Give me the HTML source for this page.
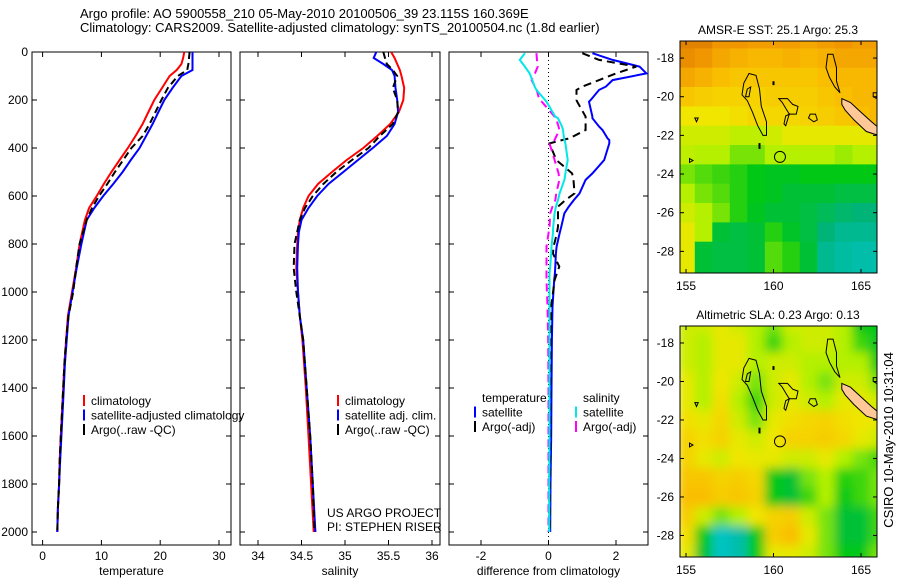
<!DOCTYPE html>
<html><head><meta charset="utf-8"><style>
html,body{margin:0;padding:0;background:#fff;}
svg{display:block;font-family:"Liberation Sans",sans-serif;}
</style></head><body>
<svg id="fig" width="900" height="580" xmlns="http://www.w3.org/2000/svg">
<text x="80" y="18" font-size="13">Argo profile: AO 5900558_210 05-May-2010 20100506_39 23.115S 160.369E</text>
<text x="80" y="32" font-size="13">Climatology: CARS2009. Satellite-adjusted climatology: synTS_20100504.nc (1.8d earlier)</text>
<text transform="translate(893,440) rotate(-90)" text-anchor="middle" font-size="13">CSIRO 10-May-2010 10:31:04</text>
</svg>
<script>
// ---------- profile data ----------
const depthT = [0,25,50,75,100,150,200,250,300,350,400,450,500,550,600,650,700,800,900,1000,1100,1200,1300,1400,1500,1600,1700,1800,1900,2000];
const tempClim = [24.1,23.9,23.6,22.8,21.6,20.3,19.0,18.0,17.0,15.8,14.5,13.1,11.7,10.4,9.2,7.9,7.2,6.3,5.7,5.0,4.3,4.0,3.7,3.5,3.3,3.1,2.9,2.8,2.6,2.5];
const tempSat  = [25.5,25.5,25.5,25.5,23.6,22.1,20.7,19.7,18.7,17.6,16.5,15.0,13.6,12.0,10.3,8.8,7.5,6.6,5.8,5.1,4.4,4.1,3.8,3.6,3.4,3.2,3.0,2.8,2.6,2.5];
const tempArgo = [25.0,24.9,24.8,24.6,23.0,21.3,20.2,19.2,18.2,17.0,15.1,13.7,12.3,11.0,9.6,8.4,7.5,6.3,5.7,5.2,4.4,4.0,3.7,3.5,3.3,3.1,2.9,2.8,2.6,2.5];
const depthS = [0,25,50,75,100,150,200,250,300,350,400,450,500,550,600,650,700,750,800,900,1000,1100,1200,1400,1600,1800,2000];
const salClim = [35.53,35.57,35.60,35.63,35.65,35.68,35.67,35.62,35.52,35.37,35.21,35.02,34.85,34.69,34.58,34.52,34.48,34.46,34.45,34.44,34.46,34.48,34.51,34.55,34.58,34.61,34.64];
const salSat  = [35.36,35.33,35.44,35.54,35.57,35.58,35.60,35.61,35.57,35.48,35.32,35.15,34.98,34.81,34.68,34.58,34.50,34.47,34.46,34.45,34.46,34.48,34.52,34.56,34.60,34.63,34.66];
const salArgo = [35.44,35.46,35.48,35.55,35.60,35.55,35.60,35.61,35.55,35.40,35.27,35.08,34.90,34.75,34.63,34.54,34.48,34.45,34.42,34.41,34.44,34.48,34.52,34.56,34.60,34.63,34.65];
const depthD = [5,33,61,89,117,144,158,200,207,269,276,311,325,360,367,381,450,506,533,589,617,644,672,728,756,811,839,894,922,950,1061,1200,1400,1600,1800,2000];
const dTempSat  = [1.3,1.9,2.7,2.9,1.9,1.7,1.5,1.25,1.2,1.3,1.3,1.5,1.6,1.75,1.8,1.8,1.65,1.3,1.1,0.92,0.75,0.6,0.47,0.38,0.33,0.24,0.22,0.2,0.19,0.17,0.12,0.1,0.09,0.08,0.06,0.05];
const dTempArgo = [1.0,1.5,2.6,2.0,1.5,1.0,0.83,0.83,0.85,1.1,1.1,1.1,1.1,0.62,0.4,0.03,0.23,0.7,0.74,0.77,0.5,0.28,0.28,0.28,0.25,0.15,0.13,0.32,0.25,0.18,0.08,0.06,0.05,0.05,0.04,0.04];
const dSalSat   = [-0.7,-0.85,-0.7,-0.56,-0.48,-0.41,-0.36,-0.1,-0.06,0.2,0.28,0.4,0.43,0.46,0.47,0.5,0.57,0.5,0.47,0.33,0.28,0.22,0.18,0.14,0.13,0.09,0.08,0.05,0.03,0.03,0.03,0.03,0.03,0.03,0.02,0.02];
const dSalArgo  = [-0.36,-0.34,-0.32,-0.4,-0.5,-0.4,-0.35,-0.27,-0.2,0.18,0.22,0.3,0.32,0.2,0.18,0.03,0.18,0.3,0.32,0.23,0.2,0.12,0.05,0.03,0.0,-0.06,-0.06,-0.06,-0.06,-0.06,-0.03,-0.01,0.0,0.0,0.0,0.0];
const depthTicks = [0,200,400,600,800,1000,1200,1400,1600,1800,2000];
const tempTicks = [0,10,20,30];
const salTicks = [34,34.5,35,35.5,36];
const salTickLabels = ["34","34.5","35","35.5","36"];
const diffTicks = [-2,0,2];
// ---------- map data (1-degree cells, 0=cold/low .. 1=warm/high) ----------
const mapLons = [154.5,155.5,156.5,157.5,158.5,159.5,160.5,161.5,162.5,163.5,164.5,165.5];
const mapLats = [-16.5,-17.5,-18.5,-19.5,-20.5,-21.5,-22.5,-23.5,-24.5,-25.5,-26.5,-27.5,-28.5];
const sstGrid = [
[0.95,0.95,0.9,0.9,0.88,0.88,0.88,0.85,0.88,0.9,0.88,0.88],
[0.92,0.9,0.85,0.82,0.8,0.8,0.82,0.8,0.82,0.85,0.85,0.85],
[0.85,0.82,0.78,0.75,0.75,0.75,0.75,0.75,0.78,0.8,0.8,0.8],
[0.75,0.72,0.7,0.7,0.7,0.72,0.72,0.72,0.75,0.78,0.8,0.8],
[0.62,0.62,0.62,0.65,0.68,0.68,0.68,0.7,0.72,0.75,0.78,0.8],
[0.55,0.55,0.55,0.52,0.52,0.55,0.6,0.6,0.6,0.6,0.6,0.6],
[0.52,0.5,0.5,0.45,0.45,0.5,0.5,0.5,0.5,0.48,0.5,0.5],
[0.45,0.42,0.4,0.38,0.35,0.33,0.33,0.35,0.35,0.35,0.35,0.35],
[0.5,0.45,0.42,0.38,0.35,0.33,0.3,0.3,0.3,0.28,0.28,0.28],
[0.55,0.5,0.45,0.38,0.33,0.3,0.3,0.28,0.25,0.22,0.2,0.2],
[0.6,0.5,0.3,0.28,0.3,0.38,0.32,0.28,0.2,0.15,0.15,0.15],
[0.6,0.3,0.28,0.28,0.3,0.42,0.38,0.3,0.15,0.12,0.1,0.1],
[0.6,0.3,0.28,0.28,0.3,0.42,0.38,0.3,0.15,0.12,0.1,0.1]];
const slaGrid = [
[0.55,0.55,0.6,0.55,0.5,0.45,0.55,0.55,0.55,0.5,0.35,0.35],
[0.55,0.5,0.6,0.6,0.5,0.4,0.5,0.55,0.55,0.5,0.4,0.33],
[0.55,0.5,0.6,0.6,0.5,0.55,0.55,0.5,0.5,0.5,0.5,0.35],
[0.6,0.5,0.62,0.55,0.45,0.55,0.6,0.5,0.45,0.55,0.55,0.45],
[0.6,0.5,0.65,0.5,0.4,0.55,0.6,0.55,0.5,0.6,0.6,0.55],
[0.65,0.6,0.68,0.55,0.45,0.6,0.65,0.68,0.7,0.65,0.62,0.6],
[0.7,0.65,0.7,0.6,0.55,0.62,0.7,0.7,0.72,0.68,0.6,0.55],
[0.7,0.6,0.55,0.62,0.6,0.6,0.55,0.55,0.6,0.5,0.45,0.4],
[0.75,0.75,0.7,0.72,0.68,0.35,0.3,0.45,0.5,0.38,0.4,0.45],
[0.78,0.78,0.72,0.75,0.7,0.35,0.3,0.4,0.5,0.35,0.4,0.45],
[0.72,0.55,0.45,0.5,0.62,0.7,0.72,0.55,0.45,0.3,0.3,0.4],
[0.65,0.35,0.05,0.1,0.35,0.72,0.78,0.6,0.45,0.3,0.3,0.4],
[0.6,0.3,0.05,0.1,0.35,0.6,0.6,0.55,0.45,0.35,0.35,0.45]];
const lonTicks = [155,160,165];
const latTicks = [-18,-20,-22,-24,-26,-28];
const argoLon = 160.369, argoLat = -23.115;

const NS = "http://www.w3.org/2000/svg";
const svg = document.getElementById("fig");
function mk(tag, attrs, parent){const e=document.createElementNS(NS,tag);for(const k in attrs)e.setAttribute(k,attrs[k]);(parent||svg).appendChild(e);return e;}
function txt(x,y,s,anchor,parent,size){const t=mk("text",{x:x,y:y,"font-size":size||12,"text-anchor":anchor||"start"},parent);t.textContent=s;return t;}

const TOP=52, BOT=545, Y0=52, YK=0.24;
const yD = d => Y0 + d*YK;
function linScale(v0,p0,v1,p1){return v=>p0+(v-v0)*(p1-p0)/(v1-v0);}

function panel(name,left,right,xs,ticks,labels,xlabel,showY){
  const g=mk("g",{});
  
  
  const r=mk("rect",{x:left,y:TOP,width:right-left,height:BOT-TOP,fill:"none",stroke:"#000","stroke-width":1},g);
  
  
  ticks.forEach((t,i)=>{const x=xs(t);
    mk("line",{x1:x,x2:x,y1:BOT,y2:BOT-5,stroke:"#000"},g);
    mk("line",{x1:x,x2:x,y1:TOP,y2:TOP+5,stroke:"#000"},g);
    const l=txt(x,BOT+15,labels[i],"middle",g);
    
    
  });
  depthTicks.forEach(d=>{const y=yD(d);
    mk("line",{x1:left,x2:left+5,y1:y,y2:y,stroke:"#000"},g);
    mk("line",{x1:right,x2:right-5,y1:y,y2:y,stroke:"#000"},g);
    if(showY){const l=txt(left-4,y+4,String(d),"end",g);
      
      }
  });
  const xl=txt((left+right)/2,BOT+30,xlabel,"middle",g);
  
  
  return g;
}
function series(name,xs,depths,vals,color,dash,width,clip){
  const pts=vals.map((v,i)=>xs(v).toFixed(1)+","+yD(depths[i]).toFixed(1)).join(" ");
  const p=mk("polyline",{points:pts,fill:"none",stroke:color,"stroke-width":width||2,"stroke-dasharray":dash||"none","clip-path":clip||"none"});
  
  
}
function legend(x,y,items,name){
  items.forEach((it,i)=>{const yy=y+i*14.5;
    const m=mk("line",{x1:x,x2:x,y1:yy-10,y2:yy+1,stroke:it[1],"stroke-width":2});
    
    
    const t=txt(x+7,yy,it[0],"start");
    
    
  });
}
// clip paths
const defs=mk("defs",{});
[["c1",32,231],["c2",240,440],["c3",449,648]].forEach(c=>{const cp=mk("clipPath",{id:c[0]},defs);mk("rect",{x:c[1],y:TOP,width:c[2]-c[1],height:BOT-TOP},cp);});

// Panel 1 temperature
const xT = linScale(0,42.6,30,219);
panel("temperature-panel",32,231,xT,tempTicks,tempTicks.map(String),"temperature",true);
series("temp-climatology-line",xT,depthT,tempClim,"#ff0000",null,2,"url(#c1)");
series("temp-satellite-line",xT,depthT,tempSat,"#0000ff",null,2,"url(#c1)");
series("temp-argo-line",xT,depthT,tempArgo,"#000000","7,4",2,"url(#c1)");
legend(84,405,[["climatology","#ff0000"],["satellite-adjusted climatology","#0000ff"],["Argo(..raw -QC)","#000000"]],"temp-legend");

// Panel 2 salinity
const xS = linScale(34,258,36,432);
panel("salinity-panel",240,440,xS,salTicks,salTickLabels,"salinity",false);
series("sal-climatology-line",xS,depthS,salClim,"#ff0000",null,2,"url(#c2)");
series("sal-satellite-line",xS,depthS,salSat,"#0000ff",null,2,"url(#c2)");
series("sal-argo-line",xS,depthS,salArgo,"#000000","7,4",2,"url(#c2)");
legend(338,405,[["climatology","#ff0000"],["satellite adj. clim.","#0000ff"],["Argo(..raw -QC)","#000000"]],"sal-legend");
const pr1=txt(327,517,"US ARGO PROJECT");
const pr2=txt(327,531,"PI: STEPHEN RISER");

// Panel 3 difference
const xDf = linScale(-2,481,2,616);
panel("difference-panel",449,648,xDf,diffTicks,diffTicks.map(String),"difference from climatology",false);
const zl=mk("line",{x1:xDf(0),x2:xDf(0),y1:TOP,y2:BOT,stroke:"#000","stroke-dasharray":"1,3"});

series("diff-temp-satellite-line",xDf,depthD,dTempSat,"#0000ff",null,2,"url(#c3)");
series("diff-temp-argo-line",xDf,depthD,dTempArgo,"#000000","8,5",2,"url(#c3)");
series("diff-sal-argo-line",xDf,depthD,dSalArgo,"#ff00ff","8,5",2,"url(#c3)");
series("diff-sal-satellite-line",xDf,depthD,dSalSat,"#00e8e8",null,2,"url(#c3)");
const lh1=txt(482,402,"temperature");
const lh2=txt(583,402,"salinity");
legend(475,416.5,[["satellite","#0000ff"],["Argo(-adj)","#000000"]],"diff-temp-legend");
legend(576,416.5,[["satellite","#00e8e8"],["Argo(-adj)","#ff00ff"]],"diff-sal-legend");

// ---------- maps ----------
const cstops=[[0,[0,200,220]],[0.2,[0,180,120]],[0.35,[0,200,20]],[0.5,[180,240,0]],[0.62,[240,230,0]],[0.78,[250,190,0]],[0.9,[240,150,0]],[1,[210,110,0]]];
function cmap(v){for(let i=1;i<cstops.length;i++){if(v<=cstops[i][0]){const a=cstops[i-1],b=cstops[i],t=(v-a[0])/(b[0]-a[0]);return "rgb("+a[1].map((c,k)=>Math.round(c+(b[1][k]-c)*t)).join(",")+")";}}return "rgb(210,110,0)";}
function drawMap(name,title,top,bottom,grid,blur){
  const L=680,R=877;
  const xL=linScale(155,686,165,861);
  const yL=linScale(-18,top+ (bottom-top)*0.0735,-28,top+(bottom-top)*0.9067);
  const g=mk("g",{});
  
  
  const cid="clip-"+name;
  const cp=mk("clipPath",{id:cid},defs);mk("rect",{x:L,y:top,width:R-L,height:bottom-top},cp);
  const cells=mk("g",{"clip-path":"url(#"+cid+")"},g);
  const cg=mk("g",blur?{filter:"url(#blur)"}:{},cells);
  mapLats.forEach((lat,r)=>mapLons.forEach((lon,c)=>{
    const x0=xL(lon),x1=xL(lon+1),y0=yL(lat),y1=yL(lat-1);
    const cell=mk("rect",{x:x0.toFixed(1),y:y0.toFixed(1),width:(x1-x0+0.6).toFixed(1),height:(y1-y0+0.6).toFixed(1),fill:cmap(grid[r][c])},cg);
    
    
  }));
  const P=pts=>pts.map(p=>xL(p[0]).toFixed(1)+","+yL(p[1]).toFixed(1)).join(" ");
  const coast=mk("g",{fill:"none",stroke:"#000","stroke-width":1},cells);
  
  
  mk("polygon",{points:P([[158.6,-18.8],[159.0,-18.9],[159.2,-19.6],[159.3,-20.5],[159.6,-21.3],[159.6,-22.0],[159.4,-22.0],[159.1,-21.5],[158.8,-20.8],[158.5,-20.2],[158.2,-19.9],[158.3,-19.3]])},coast);
  mk("polygon",{points:P([[158.5,-19.6],[158.7,-19.5],[158.6,-20.0],[158.4,-20.0]])},coast);
  mk("polygon",{points:P([[160.3,-20.1],[160.8,-20.1],[161.1,-20.4],[161.4,-20.5],[161.3,-20.9],[160.9,-20.9],[160.7,-20.6],[160.5,-20.3]])},coast);
  mk("polygon",{points:P([[160.7,-21.0],[160.9,-20.9],[160.7,-21.5],[160.6,-21.4]])},coast);
  mk("polygon",{points:P([[162.1,-20.9],[162.4,-20.9],[162.5,-21.2],[162.3,-21.3],[162.0,-21.1]])},coast);
  mk("polygon",{points:P([[163.1,-17.8],[163.4,-17.8],[163.6,-18.5],[163.6,-19.2],[163.8,-19.8],[163.5,-19.5],[163.2,-19.0],[163.0,-18.5]])},coast);
  mk("polygon",{points:P([[165.7,-19.8],[165.9,-19.8],[165.9,-20.1],[165.7,-20.0]])},coast);
  mk("polygon",{points:P([[155.5,-21.1],[155.7,-21.1],[155.6,-21.3]])},coast);
  mk("polygon",{points:P([[155.2,-23.2],[155.4,-23.3],[155.2,-23.4]])},coast);
  mk("line",{x1:xL(160),x2:xL(160),y1:yL(-19.2),y2:yL(-19.4),"stroke-width":2},coast);
  mk("line",{x1:xL(159.2),x2:xL(159.2),y1:yL(-22.4),y2:yL(-22.7),"stroke-width":2},coast);
  const nc=mk("polygon",{points:P([[163.9,-20.1],[164.4,-20.3],[165.0,-20.8],[165.6,-21.3],[166.0,-21.6],[166.0,-22.0],[165.3,-21.8],[164.6,-21.2],[164.1,-20.7],[163.9,-20.4]]),fill:"#ffc896",stroke:"#000","stroke-width":1},cells);
  
  
  const ac=mk("circle",{cx:xL(argoLon),cy:yL(argoLat),r:5.5,fill:"none",stroke:"#000","stroke-width":1},cells);
  
  
  mk("rect",{x:L,y:top,width:R-L,height:bottom-top,fill:"none",stroke:"#000"},g);
  lonTicks.forEach(t=>{const x=xL(t);
    mk("line",{x1:x,x2:x,y1:bottom,y2:bottom-4,stroke:"#000"},g);
    mk("line",{x1:x,x2:x,y1:top,y2:top+4,stroke:"#000"},g);
    const l=txt(x,bottom+17,String(t),"middle",g);
    
    });
  latTicks.forEach(t=>{const y=yL(t);
    mk("line",{x1:L,x2:L+4,y1:y,y2:y,stroke:"#000"},g);
    mk("line",{x1:R,x2:R-4,y1:y,y2:y,stroke:"#000"},g);
    const l=txt(L-6,y+4,String(t),"end",g);
    
    });
  const tt=txt(778,top-7,title,"middle",g);
  
  
}
const flt=mk("filter",{id:"blur",x:"-5%",y:"-5%",width:"110%",height:"110%"},defs);
mk("feGaussianBlur",{stdDeviation:"5",edgeMode:"duplicate"},flt);
drawMap("sst-map","AMSR-E SST: 25.1 Argo: 25.3",41,273,sstGrid,false);
drawMap("sla-map","Altimetric SLA: 0.23 Argo: 0.13",326,557,slaGrid,true);
</script>
</body></html>
